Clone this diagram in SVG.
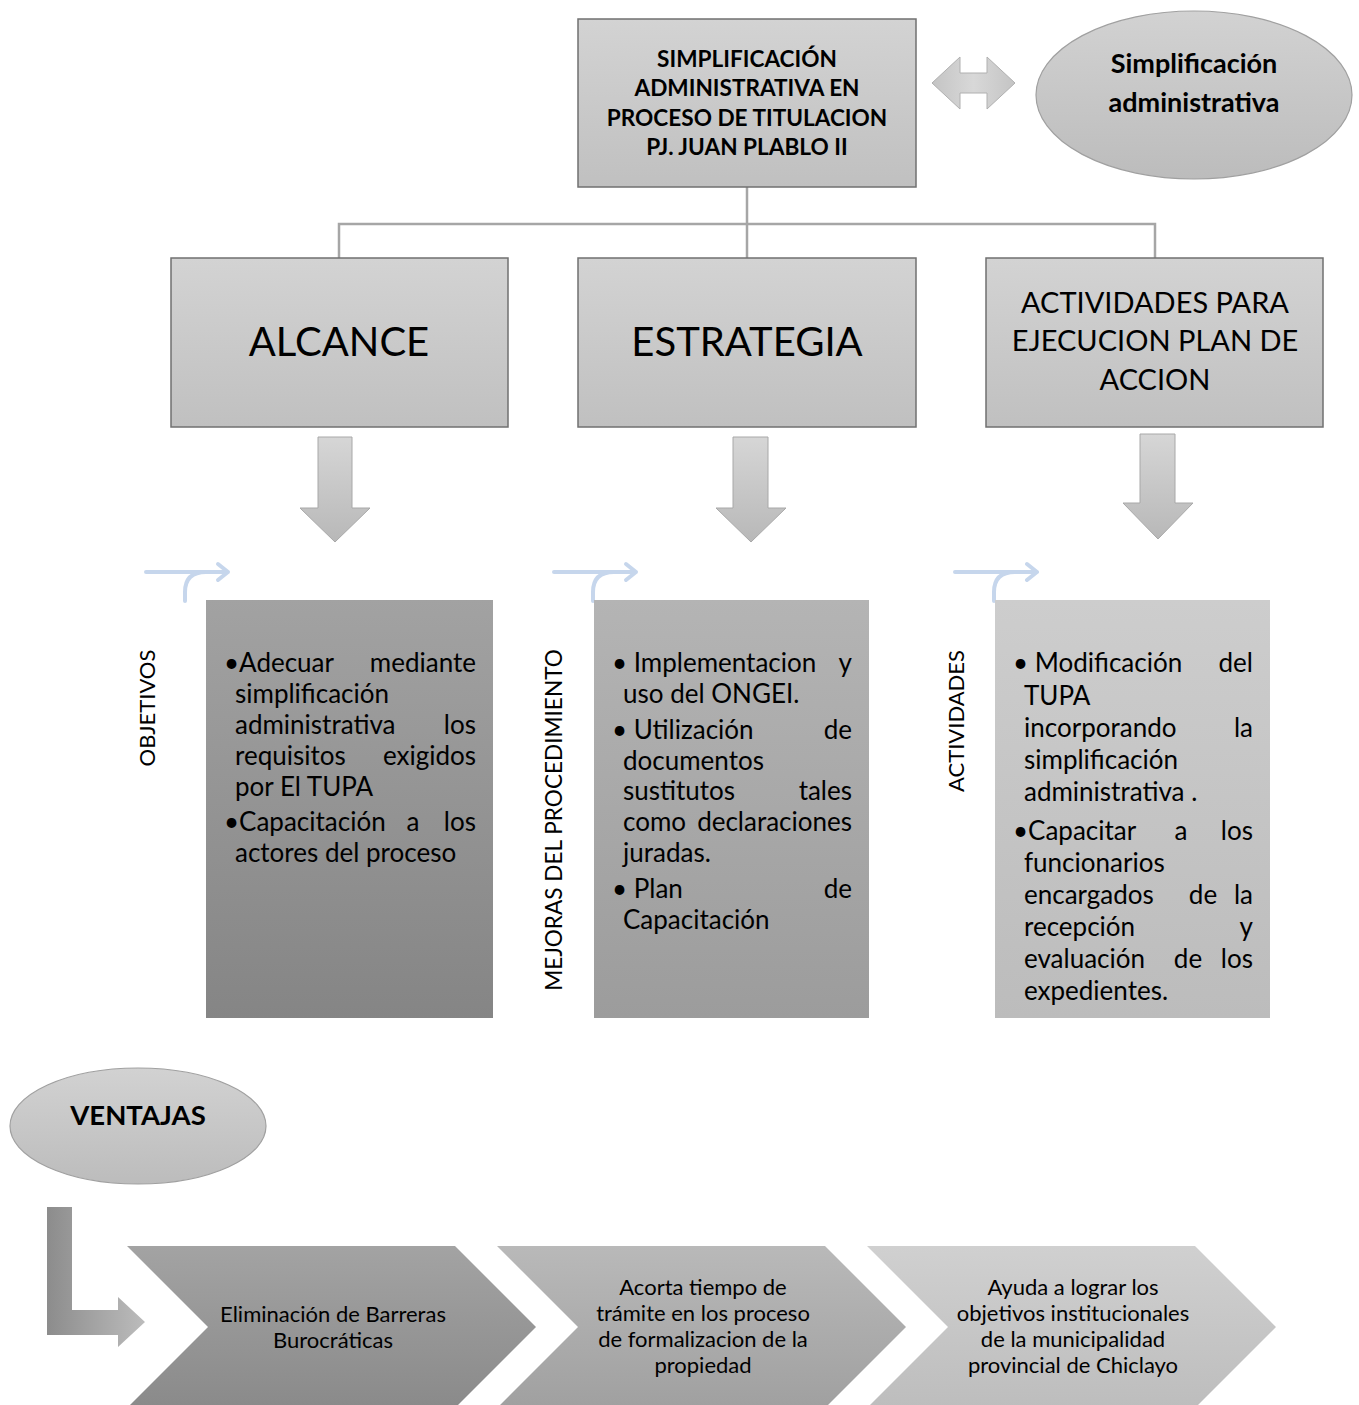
<svg xmlns="http://www.w3.org/2000/svg" width="1359" height="1405" viewBox="0 0 1359 1405">
<defs>
<linearGradient id="gBox" x1="0" y1="0" x2="0" y2="1"><stop offset="0" stop-color="#d3d3d3"/><stop offset="1" stop-color="#c0c0c0"/></linearGradient>
<linearGradient id="gArr" x1="0" y1="0" x2="0" y2="1"><stop offset="0" stop-color="#d6d6d6"/><stop offset="1" stop-color="#b8b8b8"/></linearGradient>
<linearGradient id="gArrH" x1="0" y1="0" x2="1" y2="0"><stop offset="0" stop-color="#c4c4c4"/><stop offset="0.5" stop-color="#d8d8d8"/><stop offset="1" stop-color="#c4c4c4"/></linearGradient>
<linearGradient id="gT1" x1="0" y1="0" x2="0" y2="1"><stop offset="0" stop-color="#a2a2a2"/><stop offset="1" stop-color="#858585"/></linearGradient>
<linearGradient id="gT2" x1="0" y1="0" x2="0" y2="1"><stop offset="0" stop-color="#b4b4b4"/><stop offset="1" stop-color="#9c9c9c"/></linearGradient>
<linearGradient id="gT3" x1="0" y1="0" x2="0" y2="1"><stop offset="0" stop-color="#cdcdcd"/><stop offset="1" stop-color="#bcbcbc"/></linearGradient>
<linearGradient id="gC1" x1="0" y1="0" x2="0" y2="1"><stop offset="0" stop-color="#a3a3a3"/><stop offset="1" stop-color="#8a8a8a"/></linearGradient>
<linearGradient id="gC2" x1="0" y1="0" x2="0" y2="1"><stop offset="0" stop-color="#b9b9b9"/><stop offset="1" stop-color="#a0a0a0"/></linearGradient>
<linearGradient id="gC3" x1="0" y1="0" x2="0" y2="1"><stop offset="0" stop-color="#d0d0d0"/><stop offset="1" stop-color="#bdbdbd"/></linearGradient>
<linearGradient id="gBent" x1="0" y1="0" x2="1" y2="0"><stop offset="0" stop-color="#8c8c8c"/><stop offset="1" stop-color="#bcbcbc"/></linearGradient>
<linearGradient id="gEll" x1="0" y1="0" x2="0" y2="1"><stop offset="0" stop-color="#d2d2d2"/><stop offset="1" stop-color="#bcbcbc"/></linearGradient>
</defs>
<style>
text{font-family:Lato,"Open Sans","Liberation Sans",sans-serif;fill:#000}
.box{fill:url(#gBox);stroke:#707070;stroke-width:1.5}
.darr{fill:url(#gArr);stroke:#a8a8a8;stroke-width:1}
.conn{fill:none;stroke:#a6a6a6;stroke-width:2.5}
.curl{fill:none;stroke:#c6d6ec;stroke-width:4;stroke-linecap:round;stroke-linejoin:round}
.b{font-weight:bold}
.t{font-size:26px}
.v{font-size:22px}
.c{font-size:22px;text-anchor:middle}
.e{text-anchor:end}
.m{text-anchor:middle}
</style>

<g id="connectors">
<path class="conn" d="M747,187 V258 M339,258 V224 H1155 V258"/>
</g>

<g id="top">
<rect class="box" x="578" y="19" width="338" height="168"/>
<text class="b m" font-size="22.6"><tspan x="747" y="67">SIMPLIFICACIÓN</tspan><tspan x="747" y="96">ADMINISTRATIVA EN</tspan><tspan x="747" y="126">PROCESO DE TITULACION</tspan><tspan x="747" y="155">PJ. JUAN PLABLO II</tspan></text>
</g>

<g id="dblarrow">
<path d="M932,83 L960,57 V73 H987 V57 L1015,83 L987,109 V93 H960 V109 Z" fill="url(#gArrH)" stroke="#b0b0b0" stroke-width="1"/>
</g>

<g id="simp">
<ellipse cx="1194" cy="95" rx="158" ry="84" fill="url(#gEll)" stroke="#a0a0a0" stroke-width="1.2"/>
<text class="b m" font-size="27"><tspan x="1194" y="73">Simplificación</tspan><tspan x="1194" y="112">administrativa</tspan></text>
</g>

<g id="alcance">
<rect class="box" x="171" y="258" width="337" height="169"/>
<text class="m" x="339" y="356" font-size="40">ALCANCE</text>
</g>
<g id="estrategia">
<rect class="box" x="578" y="258" width="338" height="169"/>
<text class="m" x="747" y="356" font-size="40">ESTRATEGIA</text>
</g>
<g id="actividades">
<rect class="box" x="986" y="258" width="337" height="169"/>
<text class="m" font-size="29"><tspan x="1155" y="313">ACTIVIDADES PARA</tspan><tspan x="1155" y="351">EJECUCION PLAN DE</tspan><tspan x="1155" y="390">ACCION</tspan></text>
</g>

<g id="arrows-down">
<path class="darr" d="M318,437 H352 V508 H370 L335,542 L300,508 H318 Z"/>
<path class="darr" d="M733,437 H768 V508 H786 L751,542 L716,508 H733 Z"/>
<path class="darr" d="M1140,434 H1175 V503 H1193 L1158,539 L1123,503 H1140 Z"/>
</g>

<g id="curls">
<path class="curl" d="M146,572 H228 M218,564 L228,572 L218,580 M185,601 V592 Q185,572 206,572"/>
<path class="curl" d="M554,572 H636 M626,564 L636,572 L626,580 M593,601 V592 Q593,572 614,572"/>
<path class="curl" d="M955,572 H1037 M1027,564 L1037,572 L1027,580 M994,601 V592 Q994,572 1015,572"/>
</g>

<g id="objetivos">
<text class="v m" transform="translate(155,708) rotate(-90)">OBJETIVOS</text>
<rect x="206" y="600" width="287" height="418" fill="url(#gT1)"/>
<g class="t">
<text x="224" y="672">•Adecuar</text><text class="e" x="476" y="672">mediante</text>
<text x="235" y="703">simplificación</text>
<text x="235" y="734">administrativa</text><text class="e" x="476" y="734">los</text>
<text x="235" y="765">requisitos</text><text class="e" x="476" y="765">exigidos</text>
<text x="235" y="796">por El TUPA</text>
<text x="224" y="831">•Capacitación</text><text class="m" x="413" y="831">a</text><text class="e" x="476" y="831">los</text>
<text x="235" y="862">actores del proceso</text>
</g>
</g>

<g id="mejoras">
<text class="m" font-size="22.6" transform="translate(562,820) rotate(-90)">MEJORAS DEL PROCEDIMIENTO</text>
<rect x="594" y="600" width="275" height="418" fill="url(#gT2)"/>
<g class="t">
<text x="612" y="672">• Implementacion</text><text class="e" x="852" y="672">y</text>
<text x="623" y="703">uso del ONGEI.</text>
<text x="612" y="739">• Utilización</text><text class="e" x="852" y="739">de</text>
<text x="623" y="770">documentos</text>
<text x="623" y="800">sustitutos</text><text class="e" x="852" y="800">tales</text>
<text x="623" y="831">como</text><text class="e" x="852" y="831">declaraciones</text>
<text x="623" y="862">juradas.</text>
<text x="612" y="898">• Plan</text><text class="e" x="852" y="898">de</text>
<text x="623" y="929">Capacitación</text>
</g>
</g>

<g id="actividades-list">
<text class="v m" transform="translate(964,721) rotate(-90)">ACTIVIDADES</text>
<rect x="995" y="600" width="275" height="418" fill="url(#gT3)"/>
<g class="t">
<text x="1013" y="672">• Modificación</text><text class="e" x="1253" y="672">del</text>
<text x="1024" y="705">TUPA</text>
<text x="1024" y="737">incorporando</text><text class="e" x="1253" y="737">la</text>
<text x="1024" y="769">simplificación</text>
<text x="1024" y="801">administrativa .</text>
<text x="1013" y="840">•Capacitar</text><text class="m" x="1181" y="840">a</text><text class="e" x="1253" y="840">los</text>
<text x="1024" y="872">funcionarios</text>
<text x="1024" y="904">encargados</text><text class="m" x="1203" y="904">de</text><text class="e" x="1253" y="904">la</text>
<text x="1024" y="936">recepción</text><text class="e" x="1253" y="936">y</text>
<text x="1024" y="968">evaluación</text><text class="m" x="1188" y="968">de</text><text class="e" x="1253" y="968">los</text>
<text x="1024" y="1000">expedientes.</text>
</g>
</g>

<g id="ventajas">
<ellipse cx="138" cy="1126" rx="128" ry="58" fill="url(#gEll)" stroke="#a0a0a0" stroke-width="1.2"/>
<text class="b m" x="138" y="1125" font-size="27.5">VENTAJAS</text>
</g>

<g id="bent">
<path d="M47,1207 H72 V1310 H118 V1297 L145,1322 L118,1347 V1335 H47 Z" fill="url(#gBent)"/>
</g>

<g id="chev1">
<path d="M127,1246 H455 L536,1327 L455,1408 H127 L208,1327 Z" fill="url(#gC1)"/>
<text class="c"><tspan x="333" y="1322">Eliminación de Barreras</tspan><tspan x="333" y="1348">Burocráticas</tspan></text>
</g>
<g id="chev2">
<path d="M497,1246 H825 L906,1327 L825,1408 H497 L578,1327 Z" fill="url(#gC2)"/>
<text class="c"><tspan x="703" y="1295">Acorta tiempo de</tspan><tspan x="703" y="1321">trámite en los proceso</tspan><tspan x="703" y="1347">de formalizacion de la</tspan><tspan x="703" y="1373">propiedad</tspan></text>
</g>
<g id="chev3">
<path d="M867,1246 H1195 L1276,1327 L1195,1408 H867 L948,1327 Z" fill="url(#gC3)"/>
<text class="c"><tspan x="1073" y="1295">Ayuda a lograr los</tspan><tspan x="1073" y="1321">objetivos institucionales</tspan><tspan x="1073" y="1347">de la municipalidad</tspan><tspan x="1073" y="1373">provincial de Chiclayo</tspan></text>
</g>
</svg>
